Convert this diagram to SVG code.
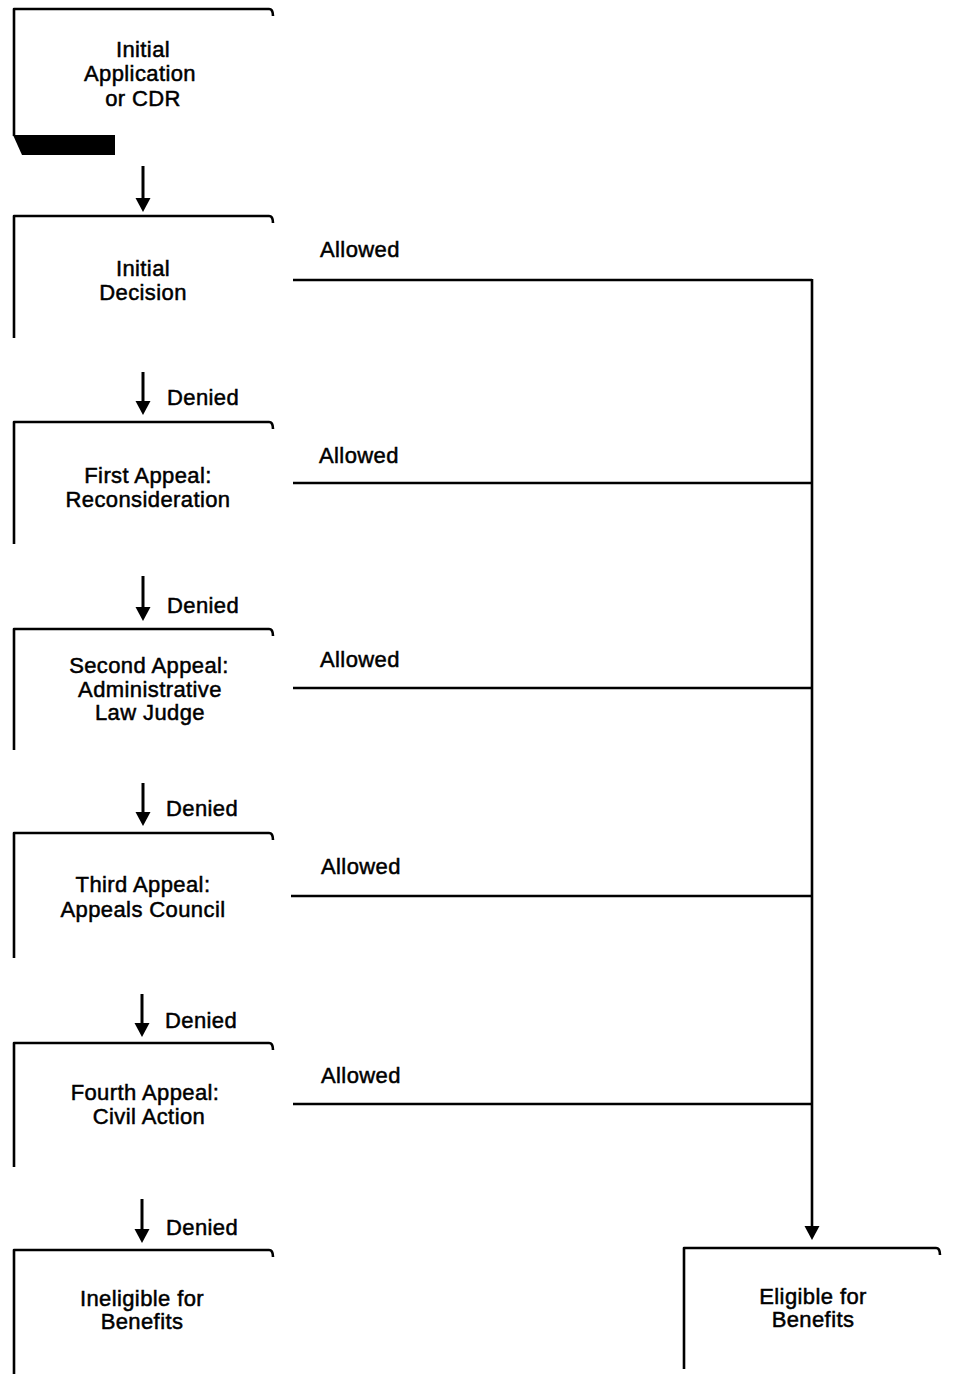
<svg xmlns="http://www.w3.org/2000/svg" width="968" height="1374" viewBox="0 0 968 1374">
<defs>
<style>
.box{fill:none;stroke:#000;stroke-width:2.6;stroke-linejoin:round}
.ln{fill:none;stroke:#000;stroke-width:2.6}
.ar{fill:none;stroke:#000;stroke-width:3}
.t{font-family:"Liberation Sans",Arial,sans-serif;font-size:22px;letter-spacing:0.4px;fill:#000;stroke:#000;stroke-width:0.5;text-anchor:middle}
.lbl{font-family:"Liberation Sans",Arial,sans-serif;font-size:22px;letter-spacing:0.4px;fill:#000;stroke:#000;stroke-width:0.5}
</style>
</defs>
<rect width="968" height="1374" fill="#fff"/>

<g id="n1">
<path class="box" d="M14,136 V9 H269 Q273,9 273,16"/>
<path d="M13,135 H115 V155 H22 Z" fill="#000"/>
<text class="t" x="143" y="57">Initial</text>
<text class="t" x="140" y="81">Application</text>
<text class="t" x="143" y="106">or CDR</text>
</g>

<g id="n2">
<path class="box" d="M14,338 V216 H269 Q273,216 273,223"/>
<text class="t" x="143" y="276">Initial</text>
<text class="t" x="143" y="300">Decision</text>
</g>

<g id="n3">
<path class="box" d="M14,544 V422 H269 Q273,422 273,429"/>
<text class="t" x="148" y="483">First Appeal:</text>
<text class="t" x="148" y="507">Reconsideration</text>
</g>

<g id="n4">
<path class="box" d="M14,750 V629 H269 Q273,629 273,636"/>
<text class="t" x="149" y="673">Second Appeal:</text>
<text class="t" x="150" y="697">Administrative</text>
<text class="t" x="150" y="720">Law Judge</text>
</g>

<g id="n5">
<path class="box" d="M14,958 V833 H269 Q273,833 273,840"/>
<text class="t" x="143" y="892">Third Appeal:</text>
<text class="t" x="143" y="917">Appeals Council</text>
</g>

<g id="n6">
<path class="box" d="M14,1167 V1043 H269 Q273,1043 273,1050"/>
<text class="t" x="145" y="1100">Fourth Appeal:</text>
<text class="t" x="149" y="1124">Civil Action</text>
</g>

<g id="n7">
<path class="box" d="M14,1374 V1250 H269 Q273,1250 273,1257"/>
<text class="t" x="142" y="1306">Ineligible for</text>
<text class="t" x="142" y="1329">Benefits</text>
</g>

<g id="n8">
<path class="box" d="M684,1369 V1248 H936 Q940,1248 940,1255"/>
<text class="t" x="813" y="1304">Eligible for</text>
<text class="t" x="813" y="1327">Benefits</text>
</g>

<g id="connectors">
<path class="ar" d="M143,166 V199"/><path d="M135.5,198 H150.5 L143,212 Z"/>
<path class="ar" d="M143,372 V402"/><path d="M135.5,401 H150.5 L143,415 Z"/>
<path class="ar" d="M143,576 V608"/><path d="M135.5,607 H150.5 L143,621 Z"/>
<path class="ar" d="M143,783 V813"/><path d="M135.5,812 H150.5 L143,826 Z"/>
<path class="ar" d="M142,994 V1024"/><path d="M134.5,1023 H149.5 L142,1037 Z"/>
<path class="ar" d="M142,1199 V1230"/><path d="M134.5,1229 H149.5 L142,1243 Z"/>
<path class="ln" d="M293,280 H812"/>
<path class="ln" d="M293,483 H812"/>
<path class="ln" d="M293,688 H812"/>
<path class="ln" d="M291,896 H812"/>
<path class="ln" d="M293,1104 H812"/>
<path class="ln" d="M812,279 V1227"/><path d="M804.5,1226 H819.5 L812,1240 Z"/>
<text class="lbl" x="167" y="405">Denied</text>
<text class="lbl" x="167" y="613">Denied</text>
<text class="lbl" x="166" y="816">Denied</text>
<text class="lbl" x="165" y="1028">Denied</text>
<text class="lbl" x="166" y="1235">Denied</text>
<text class="lbl" x="320" y="257">Allowed</text>
<text class="lbl" x="319" y="463">Allowed</text>
<text class="lbl" x="320" y="667">Allowed</text>
<text class="lbl" x="321" y="874">Allowed</text>
<text class="lbl" x="321" y="1083">Allowed</text>
</g>
</svg>
